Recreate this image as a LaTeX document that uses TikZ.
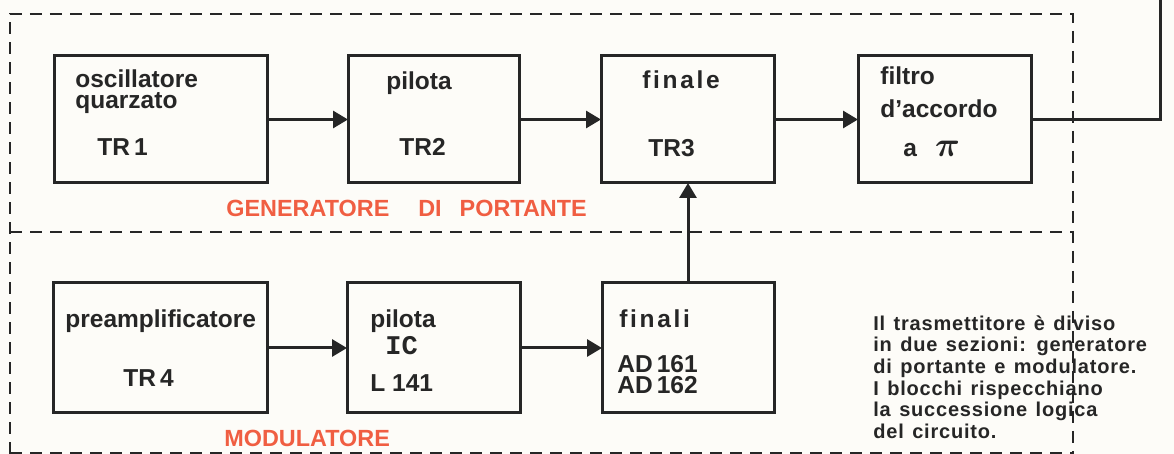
\documentclass[tikz,border=0pt]{standalone}
\usepackage{fontspec}
\setmainfont{Liberation Sans}
\newfontfamily\wideface[LetterSpace=11]{Liberation Sans}
\newfontfamily\noteface[LetterSpace=4]{Liberation Sans}
\newfontfamily\icface{Liberation Mono}
\usetikzlibrary{arrows.meta,positioning}
\definecolor{ink}{RGB}{38,38,38}
\definecolor{secred}{RGB}{240,94,66}
\definecolor{paper}{RGB}{253,252,248}
\newcommand\blocksize{\fontsize{12.25}{10.9}\selectfont}
\newcommand\notesize{\fontsize{10}{10.85}\selectfont\spaceskip=0.42em\relax}

\tikzset{
  blk/.style={draw=ink, line width=1.5pt, inner sep=0pt, outer sep=0pt},
  wire/.style={draw=ink, line width=1.5pt},
  sig/.style={wire, -{Triangle[length=7.5pt,width=8.5pt]}},
  frame/.style={draw=ink, line width=0.75pt, dash pattern=on 6pt off 4pt},
  lbl/.style={anchor=base west, inner sep=0pt, text=ink, align=left,
    font=\bfseries\blocksize},
  sect/.style={anchor=base west, inner sep=0pt, text=secred,
    font=\bfseries\fontsize{11.7}{13}\selectfont},
}

\begin{document}
\begin{tikzpicture}[x=0.5pt, y=-0.5pt]
    \fill[paper] (0,0) rectangle (1174,454);
    \useasboundingbox (0,0) rectangle (1174,454);
    % frame of the two sections
    \draw[frame] (10,454) -- (10,14) -- (1073,14) -- (1073,454);
    \draw[frame] (10,232) -- (1073,232);
    \draw[frame] (10,453) -- (1073,453);
    % generatore di portante
    \node[blk, minimum width=106.5pt, minimum height=63.5pt] (osc) at (160.5,119.5) {};
    \node[blk, minimum width=85.5pt, minimum height=63.5pt] (pil) at (433.5,119.5) {};
    \node[blk, minimum width=86.5pt, minimum height=63.5pt] (fin) at (687.5,119.5) {};
    \node[blk, minimum width=86.5pt, minimum height=63.5pt] (flt) at (944.5,119.5) {};
    \node[lbl] (osc-t) at (75,109) {oscillatore\\quarzato};
    \node[lbl] (osc-n) at (97,156) {TR\,1};
    \node[lbl] (pil-t) at (386,90) {pilota};
    \node[lbl] (pil-n) at (399,156) {TR2};
    \node[lbl, font=\wideface\bfseries\blocksize] (fin-t) at (642,89) {finale};
    \node[lbl] (fin-n) at (648,157) {TR3};
    \node[lbl] (flt-t) at (880,85) {filtro};
    \node[lbl] (flt-m) at (880,118) {d’accordo};
    \node[lbl] (flt-n) at (903,157) {a\hspace{9pt}{\fontsize{19}{19}\selectfont\boldmath$\pi$}};
    \node[sect] (gen) at (226,217) {GENERATORE\hspace{14.5pt}DI\hspace{9pt}PORTANTE};
    % modulatore
    \node[blk, minimum width=107pt, minimum height=65pt] (pre) at (160,348) {};
    \node[blk, minimum width=86.5pt, minimum height=65pt] (drv) at (433.5,348) {};
    \node[blk, minimum width=86pt, minimum height=65pt] (fnl) at (688,348) {};
    \node[lbl] (pre-t) at (65,328) {preamplificatore};
    \node[lbl] (pre-n) at (123,387) {TR\,4};
    \node[lbl] (drv-t) at (370,328) {pilota};
    \node[lbl, font=\icface\bfseries\fontsize{13.5}{14}\selectfont] (drv-c) at (385,355) {IC};
    \node[lbl] (drv-n) at (370,392) {L 141};
    \node[lbl, font=\wideface\bfseries\blocksize] (fnl-t) at (619,328) {finali};
    \node[lbl] (fnl-n) at (617,394) {AD\,161\\AD\,162};
    \node[sect] (mod) at (224,447) {MODULATORE};
    % connections
    \draw[sig] (osc) -- (pil);
    \draw[sig] (pil) -- (fin);
    \draw[sig] (fin) -- (flt);
    \draw[sig] (pre) -- (drv);
    \draw[sig] (drv) -- (fnl);
    \draw[sig] (fnl.north) -- (fnl.north |- fin.south);
    \coordinate (out) at (1160,-2);
    \draw[wire] (flt.east) -| (out);
    % note
    \node[anchor=base west, inner sep=0pt, text=ink, align=left,
      font=\noteface\bfseries\notesize]
      (note) at (873,438.5) {Il trasmettitore è diviso\\in due sezioni: generatore\\di portante e modulatore.\\I blocchi rispecchiano\\la successione logica\\del circuito.};
\end{tikzpicture}
\end{document}
